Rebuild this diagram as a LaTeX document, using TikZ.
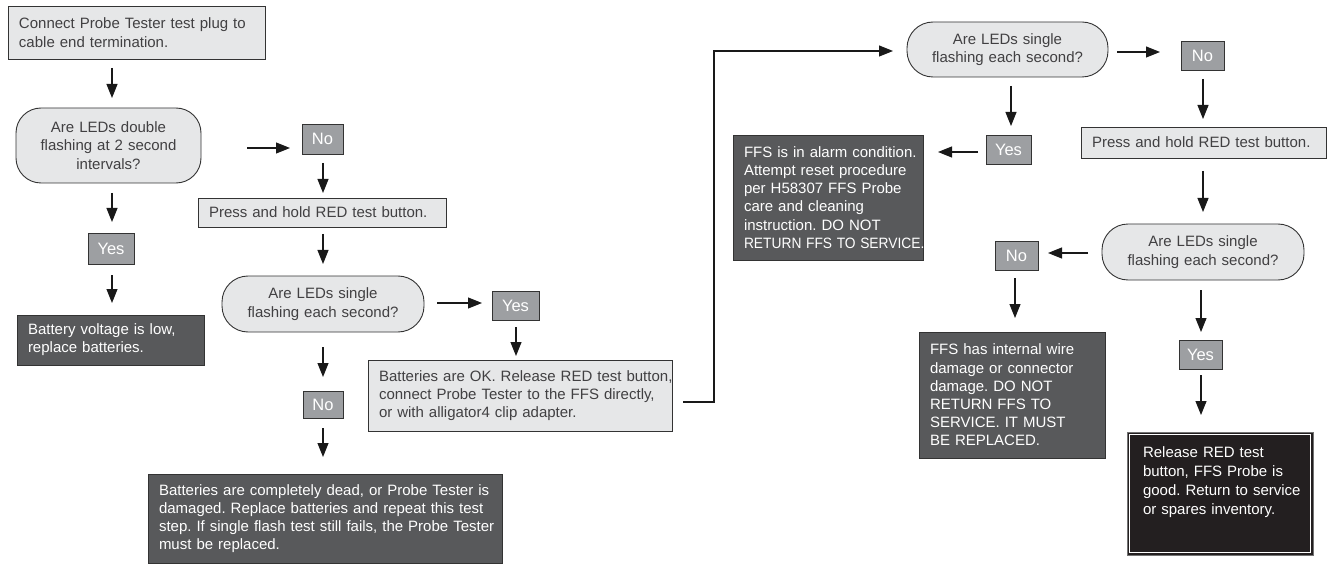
\documentclass[tikz,border=0pt]{standalone}
\usepackage{fontspec}
\usepackage{graphicx}
\setmainfont{Liberation Sans}
\frenchspacing
\usetikzlibrary{arrows.meta,calc}
\definecolor{lightfill}{HTML}{E6E7E8}
\definecolor{edge}{HTML}{333333}
\definecolor{txt}{HTML}{414042}
\definecolor{tagfill}{HTML}{9D9FA2}
\definecolor{darkfill}{HTML}{58595B}
\definecolor{blackfill}{HTML}{231F20}
\begin{document}
\frenchspacing
\begin{tikzpicture}[x=1pt,y=-1pt,
  every node/.style={inner ysep=0pt, outer sep=0pt, line width=0.9pt},
  lightbox/.style={draw=edge, fill=lightfill, text=txt, font=\fontsize{15}{18.3}\selectfont, align=left, inner xsep=11pt},
  darkbox/.style={draw=edge, fill=darkfill, text=white, font=\fontsize{15}{18.2}\selectfont, align=left, inner xsep=11pt},
  decision/.style={draw=edge, fill=lightfill, text=txt, font=\fontsize{15}{18.5}\selectfont, align=center, inner xsep=11pt, rounded corners=26pt},
  tag/.style={draw=edge, fill=tagfill, text=white, font=\fontsize{16.5}{18}\selectfont, inner sep=0pt},
  arr/.style={-{Triangle[length=14pt,width=11pt]}, line width=1.1pt, draw=black!90}
]
\fill[white] (0,0) rectangle (1328,564);
\useasboundingbox (0,0) rectangle (1328,564);

% left column
\node[lightbox, text width=235pt, minimum height=53pt] (start) at (136.5,32.5)
  {\mbox{Connect Probe Tester test plug to}\\\mbox{cable end termination.}};
\node[decision, rounded corners=25pt, text width=163pt, minimum height=75pt] (dec1) at (108.5,145.5)
  {Are LEDs double\\flashing at 2 second\\intervals?};
\node[tag, minimum width=41pt, minimum height=30pt] (no1) at (322.5,139) {No};
\node[lightbox, text width=226pt, minimum height=29pt] (press1) at (322,212.5)
  {\mbox{Press and hold RED test button.}};
\node[decision, text width=180pt, minimum height=56pt] (dec2) at (323,304)
  {Are LEDs single\\flashing each second?};
\node[tag, minimum width=47pt, minimum height=29pt] (yes2) at (515.5,305.5) {Yes};
\node[lightbox, text width=282pt, minimum height=71pt] (ok) at (520,395.5)
  {\mbox{Batteries are OK. Release RED test button,}\\\mbox{connect Probe Tester to the FFS directly,}\\\mbox{or with alligator4 clip adapter.}};
\node[tag, minimum width=40pt, minimum height=27pt] (no2) at (323,404.5) {No};
\node[darkbox, text width=332pt, minimum height=89pt] (dead) at (325,518.5)
  {\mbox{Batteries are completely dead, or Probe Tester is}\\\mbox{damaged. Replace batteries and repeat this test}\\\mbox{step. If single flash test still fails, the Probe Tester}\\\mbox{must be replaced.}};
\node[tag, minimum width=46pt, minimum height=31pt] (yes1) at (111,248.5) {Yes};
\node[darkbox, text width=165pt, minimum height=50pt] (low) at (110.5,340)
  {\mbox{Battery voltage is low,}\\\mbox{replace batteries.}};

% right part
\node[decision, text width=179pt, minimum height=55pt] (dec3) at (1007.5,49.5)
  {Are LEDs single\\flashing each second?};
\node[tag, minimum width=45pt, minimum height=29pt] (yes3) at (1008.5,149.5) {Yes};
\node[darkbox, text width=168pt, minimum height=125pt] (alarm) at (828,197.5)
  {\mbox{FFS is in alarm condition.}\\\mbox{Attempt reset procedure}\\\mbox{per H58307 FFS Probe}\\\mbox{care and cleaning}\\\mbox{instruction. DO NOT}\\\scalebox{0.92}[1]{RETURN FFS TO SERVICE.}};
\node[tag, minimum width=43pt, minimum height=29pt] (no3) at (1202.5,55.5) {No};
\node[lightbox, text width=223pt, minimum height=31pt] (press2) at (1203.5,142.5)
  {\mbox{Press and hold RED test button.}};
\node[decision, text width=180pt, minimum height=56pt] (dec4) at (1203,252)
  {Are LEDs single\\flashing each second?};
\node[tag, minimum width=43pt, minimum height=29pt] (no4) at (1016.5,255.5) {No};
\node[darkbox, text width=164pt, minimum height=126pt] (wire) at (1012,395)
  {\mbox{FFS has internal wire}\\\mbox{damage or connector}\\\mbox{damage. DO NOT}\\\mbox{RETURN FFS TO}\\\mbox{SERVICE. IT MUST}\\\mbox{BE REPLACED.}};
\node[tag, minimum width=43pt, minimum height=29pt] (yes5) at (1200.5,354.5) {Yes};
\node[darkbox, fill=blackfill, draw=black!55, inner xsep=16pt, text width=154pt, minimum height=123pt, font=\fontsize{15}{19}\selectfont] (release) at (1220,493.5)
  {\mbox{Release RED test}\\\mbox{button, FFS Probe is}\\\mbox{good. Return to service}\\\mbox{or spares inventory.}\par\vspace{22pt}};
\draw[white, line width=0.9pt] ($(release.north west)+(2.5,2.5)$) rectangle ($(release.south east)+(-2.5,-2.5)$);

% connectors
\draw[arr, shorten <=9pt, shorten >=10pt] (start.south -| 112,0) -- (dec1.north -| 112,0);
\draw[arr, shorten <=46pt, shorten >=12pt] (dec1.east |- 0,148) -- (no1.west |- 0,148);
\draw[arr, shorten <=9pt, shorten >=5pt] (no1.south -| 323,0) -- (press1.north -| 323,0);
\draw[arr, shorten <=7pt, shorten >=12pt] (press1.south -| 323,0) -- (dec2.north -| 323,0);
\draw[arr, shorten <=13pt, shorten >=10pt] (dec2.east |- 0,303) -- (yes2.west |- 0,303);
\draw[arr, shorten <=7pt, shorten >=4pt] (yes2.south -| 516,0) -- (ok.north -| 516,0);
\draw[arr, shorten <=15pt, shorten >=14pt] (dec2.south -| 323,0) -- (no2.north -| 323,0);
\draw[arr, shorten <=10pt, shorten >=17pt] (no2.south -| 323,0) -- (dead.north -| 323,0);
\draw[arr, shorten <=10pt, shorten >=11pt] (dec1.south -| 112,0) -- (yes1.north -| 112,0);
\draw[arr, shorten <=11pt, shorten >=12pt] (yes1.south -| 112,0) -- (low.north -| 112,0);
\draw[arr, line cap=butt] ($(ok.east)+(11,6.5)$) -- ++(31,0) |- ($(dec3.west)+(-14,1.5)$);
\draw[arr, shorten <=9pt, shorten >=9pt] (dec3.south -| 1011,0) -- (yes3.north -| 1011,0);
\draw[arr, shorten <=8pt, shorten >=15pt] (yes3.west |- 0,152) -- (alarm.east |- 0,152);
\draw[arr, shorten <=9pt, shorten >=21pt] (dec3.east |- 0,52) -- (no3.west |- 0,52);
\draw[arr, shorten <=9pt, shorten >=8pt] (no3.south -| 1203,0) -- (press2.north -| 1203,0);
\draw[arr, shorten <=13pt, shorten >=12pt] (press2.south -| 1203,0) -- (dec4.north -| 1203,0);
\draw[arr, shorten <=14pt, shorten >=10pt] (dec4.west |- 0,253) -- (no4.east |- 0,253);
\draw[arr, shorten <=8pt, shorten >=14pt] (no4.south -| 1015,0) -- (wire.north -| 1015,0);
\draw[arr, shorten <=10pt, shorten >=8pt] (dec4.south -| 1201,0) -- (yes5.north -| 1201,0);
\draw[arr, shorten <=6pt, shorten >=17pt] (yes5.south -| 1201,0) -- (release.north -| 1201,0);
\end{tikzpicture}
\end{document}
